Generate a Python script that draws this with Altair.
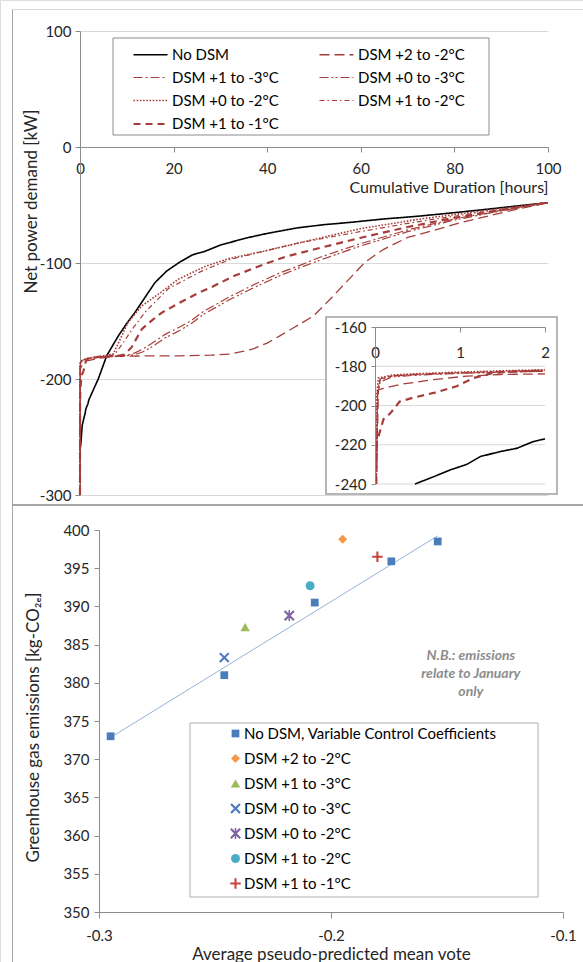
import altair as alt
import pandas as pd

W, H = 583, 962
FONT = "Lato"
TXT = "#262626"
AX = "#8c8c8c"
GRID = "#d9d9d9"

# ---------------- top chart: cumulative duration curves ----------------
SERIES = ["No DSM", "DSM +2 to -2°C", "DSM +1 to -3°C", "DSM +0 to -3°C",
          "DSM +0 to -2°C", "DSM +1 to -2°C", "DSM +1 to -1°C"]
LINE_COLORS = ["#000000"] + ["#a63d3a"] * 6
LINE_DASHES = [[1, 0], [10, 5], [9, 3, 2, 3], [9, 3, 2, 2, 2, 3], [1.6, 1.6], [5, 3, 1.5, 3], [7, 5]]
LINE_WIDTHS = [1.6, 1.3, 1.2, 1.2, 1.6, 1.2, 2.2]

nodsm_x = [0, 0.2, 0.47, 0.69, 0.88, 1.08, 1.24, 1.47, 1.67, 1.86, 2.0, 3.0, 3.9, 4.8, 5.7, 7.0, 8.2,
           10.0, 11.75, 14.0, 16.0, 18.5, 21.4, 24.0, 26.7, 30.0, 35.6, 40.0, 46.3, 52.0, 57.7, 65.0,
           71.9, 79.0, 86.2, 93.0, 100]
nodsm_y = [-262, -255, -240, -236.3, -232.9, -230, -226, -223.5, -221.8, -218.4, -217, -208, -200, -190,
           -180, -171, -162.8, -152, -142.6, -129, -117, -107, -99, -93, -89.9, -84.5, -78.4, -74.5,
           -69.8, -67, -65, -62, -59.8, -57, -54, -51, -48]

p22_x = [0, 0.015, 0.04, 0.29, 0.69, 1.08, 1.47, 2.0, 4.0, 8.0, 15.0, 21.4, 28.0, 32.0, 34.5, 37.0, 40.0,
         42.7, 46.0, 49.9, 53.5, 57.7, 61.0, 64.8, 70.0, 75.5, 81.0, 86.2, 93.0, 100]
p22_y = [-300, -240, -191.9, -189.3, -186.8, -185, -184.2, -183.9, -182, -180.5, -180, -180, -179.5,
         -178.5, -176.5, -174, -169, -162.8, -155, -145.6, -131, -113, -99, -88.4, -78, -72, -65.5,
         -60.5, -54, -48]

p13_x = [0, 0.015, 0.03, 0.06, 0.2, 0.5, 1.0, 1.5, 2.0, 4.0, 8.0, 10.0, 11.75, 13.5, 15.3, 18.2, 21.4,
         24.0, 26.3, 32.0, 37.0, 42.7, 47.0, 51.3, 59.8, 70.0, 80.0, 90.0, 100]
p13_y = [-300, -240, -193, -186.5, -184.8, -184, -183.2, -182.6, -182, -181, -180, -179.5, -177.5, -174,
         -169.5, -161.5, -155, -149, -142, -129, -119, -108.5, -102, -95, -83.5, -71.5, -62, -54.5, -48]

p03_x = p13_x
p03_y = [-300, -240, -195, -188, -185.5, -184.5, -183.6, -183, -182.6, -181.2, -180, -179.8, -179,
         -176.5, -172.5, -164.5, -158, -151.5, -144.5, -131.5, -121.5, -111, -104, -97.5, -85.5, -73,
         -63, -55, -48]

p02_x = [0, 0.015, 0.02, 0.04, 0.2, 0.5, 1.0, 1.5, 2.0, 4.0, 7.1, 8.9, 10.3, 13.2, 16.7, 21.0, 26.7,
         32.0, 39.2, 49.9, 59.8, 72.0, 86.0, 100]
p02_y = [-300, -240, -195, -186, -184.5, -183.8, -183, -182.3, -181.8, -180.5, -178.5, -163, -151,
         -137, -127, -114, -103, -96, -89.9, -79.8, -70.5, -62.5, -55, -48]

p12_x = [0, 0.015, 0.03, 0.06, 0.2, 0.5, 1.0, 1.5, 2.0, 4.0, 7.4, 9.0, 11.0, 14.0, 18.9, 26.0, 32.0,
         46.3, 59.8, 72.0, 86.0, 100]
p12_y = [-300, -240, -194, -187, -185, -184.3, -183.5, -183, -182.5, -181, -179, -170, -158, -142,
         -122, -107, -97, -83, -73, -64.5, -56, -48]

p11_x = [0, 0.015, 0.02, 0.1, 0.18, 0.29, 0.45, 0.69, 0.96, 1.16, 1.39, 1.67, 2.0, 4.0, 8.0, 9.5, 11.0,
         13.2, 15.5, 17.5, 21.4, 25.2, 28.5, 33.0, 39.2, 44.0, 49.9, 59.8, 70.0, 80.0, 90.0, 100]
p11_y = [-300, -240, -219, -207, -204, -198, -196, -193.6, -190.2, -186, -183.4, -182.5, -182.3, -181,
         -180, -179, -172.8, -157, -149, -142.8, -134, -126, -120, -111, -101.3, -94.5, -88.4, -78.4,
         -69, -61, -54.5, -48]

X_TICKS = [0, 20, 40, 60, 80, 100]
Y_TICKS = [100, 0, -100, -200, -300]
INSET_X_TICKS = [0, 1, 2]
INSET_Y_TICKS = [-160, -180, -200, -220, -240]
INSET_GRID = [-180, -200, -220, -240]

# ---------------- bottom chart: emissions vs PPMV ----------------
BOT_NAMES = ["No DSM, Variable Control Coefficients", "DSM +2 to -2°C", "DSM +1 to -3°C",
             "DSM +0 to -3°C", "DSM +0 to -2°C", "DSM +1 to -2°C", "DSM +1 to -1°C"]
nodsm_ppmv = [-0.295, -0.246, -0.207, -0.174, -0.154]
nodsm_ghg = [373.0, 381.0, 390.5, 395.9, 398.5]
dsm_ppmv = [-0.195, -0.237, -0.246, -0.218, -0.209, -0.180]
dsm_ghg = [398.8, 387.3, 383.3, 388.8, 392.7, 396.5]
BOT_COLORS = ["#4a7ebb", "#f79646", "#9bbb59", "#4a78c0", "#8064a2", "#4bacc6", "#c8423f"]
X_PATH = ("M-0.709,-0.991L0.991,0.709L0.709,0.991L-0.991,-0.709Z"
          "M-0.709,0.991L-0.991,0.709L0.709,-0.991L0.991,-0.709Z")
AST_PATH = X_PATH + "M-0.14,-1L0.14,-1L0.14,1L-0.14,1Z"
PLUS_PATH = "M-0.2,-1L0.2,-1L0.2,-0.2L1,-0.2L1,0.2L0.2,0.2L0.2,1L-0.2,1L-0.2,0.2L-1,0.2L-1,-0.2L-0.2,-0.2Z"
BOT_SHAPES = ["square", "diamond", "triangle-up", X_PATH, AST_PATH, "circle", PLUS_PATH]
BOT_SIZES = [60, 81, 90, 110, 120, 80, 110]
BOT_X_TICKS = [-0.3, -0.2, -0.1]
BOT_Y_TICKS = [400, 395, 390, 385, 380, 375, 370, 365, 360, 355, 350]
NB_TEXT = "N.B.: emissions\nrelate to January\nonly"
NB_X, NB_Y = -0.1397, 383.5

# ---------------- build tables ----------------
rows = []
for name, xs, ys in zip(SERIES,
                        [nodsm_x, p22_x, p13_x, p03_x, p02_x, p12_x, p11_x],
                        [nodsm_y, p22_y, p13_y, p03_y, p02_y, p12_y, p11_y]):
    for i, (a, b) in enumerate(zip(xs, ys)):
        rows.append({"series": name, "x": a, "y": b, "i": i})
top_df = pd.DataFrame(rows)

brows = [{"name": BOT_NAMES[0], "x": a, "y": b} for a, b in zip(nodsm_ppmv, nodsm_ghg)]
for name, a, b in zip(BOT_NAMES[1:], dsm_ppmv, dsm_ghg):
    brows.append({"name": name, "x": a, "y": b})
bot_df = pd.DataFrame(brows)
one = pd.DataFrame({"k": [0]})
grid_df = pd.DataFrame({"g": INSET_GRID})

# ---------------- main top panel ----------------
main_x = alt.X("x:Q", scale=alt.Scale(domain=[0, 100], range=[80, 548], nice=False, zero=False),
               axis=alt.Axis(orient="bottom", offset=147 - H, values=X_TICKS, grid=False,
                             domainColor=AX, tickColor=AX, tickSize=5, labelFontSize=15,
                             labelColor=TXT, labelPadding=9, labelFlush=False, labelOverlap=False,
                             title="Cumulative Duration [hours]", titleAnchor="end",
                             titleFontSize=16, titleFontWeight="normal", titleColor=TXT,
                             titlePadding=3))
main_y = alt.Y("y:Q", scale=alt.Scale(domain=[-300, 100], range=[495, 31], nice=False, zero=False),
               axis=alt.Axis(orient="left", offset=-80, values=Y_TICKS, grid=True, gridColor=GRID,
                             domainColor=AX, tickColor=AX, tickSize=5, labelFontSize=15,
                             labelColor=TXT, labelPadding=4, labelExpr="datum.value + ''",
                             labelFlush=False, labelOverlap=False,
                             title="Net power demand [kW]", titleFontSize=17,
                             titleFontWeight="normal", titleColor=TXT, titleAngle=-90,
                             titleX=31 - 80, titleY=201, titleBaseline="middle", titleAlign="center"))

# legend line symbol: a stroke that runs from the symbol's left edge 34 px to the right
LEGEND_LINE = "M-1,0L3,0"

main = alt.Chart(top_df).mark_line().encode(
    x=main_x, y=main_y,
    color=alt.Color("series:N", scale=alt.Scale(domain=SERIES, range=LINE_COLORS),
                    legend=alt.Legend(orient="none", legendX=132, legendY=45, columns=2,
                                      direction="horizontal", title=None,
                                      labelFont=FONT, labelFontSize=15, labelColor="#000",
                                      symbolType=LEGEND_LINE, symbolSize=289, labelOffset=20,
                                      rowPadding=5, columnPadding=37, padding=0,
                                      labelLimit=300)),
    strokeDash=alt.StrokeDash("series:N", scale=alt.Scale(domain=SERIES, range=LINE_DASHES)),
    strokeWidth=alt.StrokeWidth("series:N", scale=alt.Scale(type="ordinal", domain=SERIES, range=LINE_WIDTHS)),
    order="i:Q",
)

# ---------------- inset ----------------
ins_xs = alt.Scale(domain=[0, 2], range=[375, 545], nice=False, zero=False)
ins_ys = alt.Scale(domain=[-240, -160], range=[484, 327], nice=False, zero=False)
ins_xaxis = alt.Axis(orient="bottom", offset=327 - H, values=INSET_X_TICKS, grid=False, zindex=1,
                     domainColor=AX, tickColor=AX, tickSize=5, labelFontSize=15, labelColor=TXT,
                     labelPadding=13, labelExpr="datum.value + ''", labelFlush=False,
                     labelOverlap=False, title=None)
ins_yaxis = alt.Axis(orient="left", offset=-375, values=INSET_Y_TICKS, grid=False, zindex=1,
                     domainColor=AX, tickColor=AX, tickSize=4, labelFontSize=15, labelColor=TXT,
                     labelPadding=5, labelExpr="datum.value + ''", labelFlush=False,
                     labelOverlap=False, title=None)

inset_box = alt.Chart(one).mark_rect(fill="white", stroke="#a0a0a0", strokeWidth=1.5).encode(
    x=alt.value(326), x2=alt.value(557), y=alt.value(317), y2=alt.value(494))

inset_grid = alt.Chart(grid_df).mark_rule(color=GRID, strokeWidth=1).encode(
    y=alt.Y("g:Q", scale=ins_ys, axis=ins_yaxis),
    x=alt.datum(0, scale=ins_xs, axis=ins_xaxis), x2=alt.datum(2))

inset_lines = alt.Chart(top_df).transform_filter(
    "datum.x <= 2 && datum.y >= -240").mark_line().encode(
    x=alt.X("x:Q", scale=ins_xs, axis=ins_xaxis),
    y=alt.Y("y:Q", scale=ins_ys, axis=ins_yaxis),
    color=alt.Color("series:N", scale=alt.Scale(domain=SERIES, range=LINE_COLORS), legend=None),
    strokeDash=alt.StrokeDash("series:N", scale=alt.Scale(domain=SERIES, range=LINE_DASHES), legend=None),
    strokeWidth=alt.StrokeWidth("series:N", scale=alt.Scale(type="ordinal", domain=SERIES, range=LINE_WIDTHS), legend=None),
    order="i:Q",
)
inset_group = alt.layer(inset_grid, inset_lines)

# ---------------- boxes & frame ----------------
top_legend_box = alt.Chart(one).mark_rect(fill="white", stroke="#8c8c8c", strokeWidth=1).encode(
    x=alt.value(113), x2=alt.value(489), y=alt.value(38), y2=alt.value(135))
bot_legend_box = alt.Chart(one).mark_rect(fill="white", stroke="#b0b0b0", strokeWidth=1).encode(
    x=alt.value(190), x2=alt.value(538), y=alt.value(723), y2=alt.value(897))
frame_left = alt.Chart(one).mark_rule(color="#a6a6a6", strokeWidth=1).encode(
    x=alt.value(12.5), y=alt.value(9), y2=alt.value(H))
frame_top = alt.Chart(one).mark_rule(color="#d6d6d6", strokeWidth=1).encode(
    x=alt.value(12), x2=alt.value(W), y=alt.value(9.5))
frame_sep = alt.Chart(one).mark_rule(color="#a6a6a6", strokeWidth=2).encode(
    x=alt.value(12), x2=alt.value(W), y=alt.value(505))

# ---------------- bottom panel ----------------
bx = alt.Scale(domain=[-0.3, -0.1], range=[99, 563], nice=False, zero=False)
by = alt.Scale(domain=[350, 400], range=[912, 530], nice=False, zero=False)
bxaxis = alt.Axis(orient="bottom", offset=912 - H, values=BOT_X_TICKS, grid=False, domainColor=AX,
                  tickColor=AX, tickSize=6, labelFontSize=15, labelColor=TXT, labelPadding=10,
                  labelExpr="datum.value + ''", labelFlush=False, labelOverlap=False,
                  title="Average pseudo-predicted mean vote", titleFontSize=17,
                  titleFontWeight="normal", titleColor=TXT, titlePadding=3)
byaxis = alt.Axis(orient="left", offset=-99, values=BOT_Y_TICKS, grid=False, domainColor=AX,
                  tickColor=AX, tickSize=5, labelFontSize=15, labelColor=TXT, labelPadding=5,
                  labelFlush=False, labelOverlap=False,
                  title="Greenhouse gas emissions [kg-CO₂ₑ]", titleFontSize=17,
                  titleFontWeight="normal", titleColor=TXT, titleAngle=-90,
                  titleX=33 - 99, titleY=727, titleBaseline="middle", titleAlign="center")

trend = alt.Chart(bot_df).transform_filter(
    alt.datum.name == BOT_NAMES[0]).transform_regression("x", "y").mark_line(
    color="#95b3d7", strokeWidth=1).encode(
    x=alt.X("x:Q", scale=bx, axis=bxaxis), y=alt.Y("y:Q", scale=by, axis=byaxis))

pts = alt.Chart(bot_df).mark_point(filled=True, opacity=1).encode(
    x=alt.X("x:Q", scale=bx, axis=bxaxis), y=alt.Y("y:Q", scale=by, axis=byaxis),
    color=alt.Color("name:N", scale=alt.Scale(domain=BOT_NAMES, range=BOT_COLORS),
                    legend=alt.Legend(orient="none", legendX=228, legendY=726, title=None,
                                      labelFont=FONT, labelFontSize=15, labelColor="#000",
                                      symbolSize=45, labelOffset=1, rowPadding=9, padding=0,
                                      symbolStrokeWidth=0, labelLimit=400)),
    shape=alt.Shape("name:N", scale=alt.Scale(domain=BOT_NAMES, range=BOT_SHAPES)),
    size=alt.Size("name:N", scale=alt.Scale(type="ordinal", domain=BOT_NAMES, range=BOT_SIZES), legend=None),
)

nb = alt.Chart(one).mark_text(font=FONT, fontSize=14, fontStyle="italic", fontWeight="bold",
                              color="#8c8c8c", align="center", baseline="middle",
                              lineBreak="\n", lineHeight=18).encode(
    x=alt.datum(NB_X), y=alt.datum(NB_Y), text=alt.value(NB_TEXT))

bottom_group = alt.layer(trend, pts, nb)

chart = alt.layer(
    frame_left, frame_top, frame_sep, main, inset_box, inset_group,
    top_legend_box, bot_legend_box, bottom_group,
).resolve_scale(
    x="independent", y="independent", color="independent", strokeDash="independent",
    strokeWidth="independent", shape="independent", size="independent",
).resolve_axis(x="independent", y="independent").resolve_legend(
    color="independent", strokeDash="independent", strokeWidth="independent",
    shape="independent", size="independent",
).properties(
    width=W, height=H, padding=0, autosize=alt.AutoSizeParams(type="none"),
).configure_view(stroke=None).configure(font=FONT, background="white")

chart.save("out.html", embed_options={"renderer": "svg", "actions": False})
